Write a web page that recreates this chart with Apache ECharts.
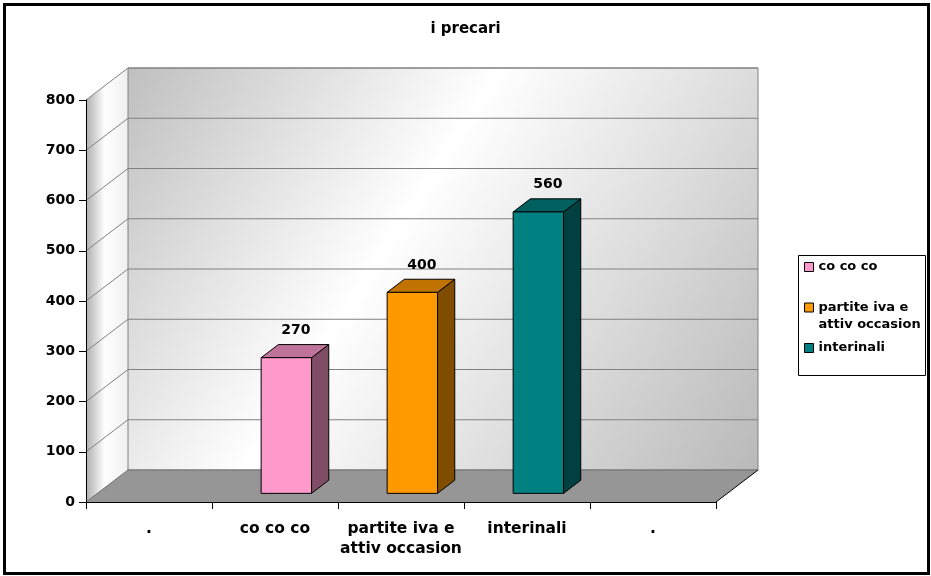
<!DOCTYPE html>
<html>
<head>
<meta charset="utf-8">
<script src="https://cdn.jsdelivr.net/npm/echarts@6/dist/echarts.min.js"></script>
<style>
html,body{margin:0;padding:0;background:#fff;}
#chart{width:931px;height:576px;}
</style>
</head>
<body>
<div id="chart"></div>
<script>
// ---- data ----
const categories = ['.', 'co co co', 'partite iva e\nattiv occasion', 'interinali', '.'];
const seriesNames = ['co co co', 'partite iva e\nattiv occasion', 'interinali'];
const seriesCategory = [1, 2, 3];
const seriesValues = [270, 400, 560];
const yMin = 0, yMax = 800, yStep = 100;
const titleText = 'i precari';

// ---- styles ----
const FONT = 'DejaVu Sans';
const faceColors = [
  {front: '#FF99CC', side: '#804D66', top: '#C0739A'},
  {front: '#FF9900', side: '#804D00', top: '#C07300'},
  {front: '#008080', side: '#004040', top: '#006060'}
];
const DX = 42, DY = 32;          // depth offset of back wall (px)
const F_FRONT = 0.27, F_BACK = 0.68, BAR_W = 0.4;

const chart = echarts.init(document.getElementById('chart'), null, {renderer: 'canvas'});

function renderBackground(params, api) {
  const bw = api.size([1, 0])[0];
  const p0 = api.coord([0, yMin]);
  const pN = api.coord([categories.length - 1, yMin]);
  const L = p0[0] - bw / 2, R = pN[0] + bw / 2, y0 = p0[1];
  const yT = api.coord([0, yMax])[1];
  const els = [];
  // side wall
  els.push({type: 'polygon', shape: {points: [[L, yT], [L + DX, yT - DY], [L + DX, y0 - DY], [L, y0]]},
    style: {fill: new echarts.graphic.LinearGradient(0, 0, 1, 0, [
      {offset: 0, color: '#aeaeae'}, {offset: 0.45, color: '#ffffff'}, {offset: 1, color: '#efefef'}]), stroke: null}});
  // back wall
  els.push({type: 'rect', shape: {x: L + DX, y: yT - DY, width: R - L, height: y0 - yT},
    style: {fill: new echarts.graphic.LinearGradient(0, 0, 1, 1, [
      {offset: 0, color: '#bfbfbf'}, {offset: 0.42, color: '#ffffff'}, {offset: 1, color: '#b9b9b9'}]),
      stroke: '#808080', lineWidth: 1}});
  // gridlines
  for (let v = yMin + yStep; v <= yMax; v += yStep) {
    const yv = api.coord([0, v])[1];
    els.push({type: 'line', shape: {x1: L + DX, y1: yv - DY, x2: R + DX, y2: yv - DY},
      style: {stroke: '#808080', lineWidth: 1}});
    els.push({type: 'line', shape: {x1: L, y1: yv, x2: L + DX, y2: yv - DY},
      style: {stroke: '#808080', lineWidth: 1}});
  }
  // floor
  els.push({type: 'polygon', shape: {points: [[L, y0], [R, y0], [R + DX, y0 - DY], [L + DX, y0 - DY]]},
    style: {fill: '#969696', stroke: null}});
  els.push({type: 'line', shape: {x1: L + DX, y1: y0 - DY, x2: R + DX, y2: y0 - DY}, style: {stroke: '#707070', lineWidth: 1}});
  els.push({type: 'line', shape: {x1: L, y1: y0, x2: L + DX, y2: y0 - DY}, style: {stroke: '#707070', lineWidth: 1}});
  els.push({type: 'line', shape: {x1: R, y1: y0, x2: R + DX, y2: y0 - DY}, style: {stroke: '#000', lineWidth: 1}});
  return {type: 'group', children: els};
}

function makeBarRenderer(si) {
  return function (params, api) {
    const ci = api.value(0), v = api.value(1);
    const c0 = api.coord([ci, yMin]);
    const c1 = api.coord([ci, v]);
    const bw = api.size([1, 0])[0] * BAR_W;
    const fx0 = c0[0] - bw / 2 + DX * F_FRONT;
    const fx1 = fx0 + bw;
    const yb = c0[1] - DY * F_FRONT;
    const yt = c1[1] - DY * F_FRONT;
    const ox = DX * (F_BACK - F_FRONT), oy = DY * (F_BACK - F_FRONT);
    const col = faceColors[si];
    const st = {stroke: '#000', lineWidth: 1, lineJoin: 'round'};
    return {type: 'group', children: [
      {type: 'polygon', shape: {points: [[fx1, yb], [fx1, yt], [fx1 + ox, yt - oy], [fx1 + ox, yb - oy]]},
        style: Object.assign({fill: col.side}, st)},
      {type: 'polygon', shape: {points: [[fx0, yt], [fx1, yt], [fx1 + ox, yt - oy], [fx0 + ox, yt - oy]]},
        style: Object.assign({fill: col.top}, st)},
      {type: 'rect', shape: {x: fx0, y: yt, width: bw, height: yb - yt},
        style: Object.assign({fill: col.front}, st)},
      {type: 'text', style: {text: String(v), x: (fx0 + fx1) / 2 + ox / 2 + 1, y: yt - oy - 14,
        align: 'center', verticalAlign: 'middle', fill: '#000',
        fontFamily: FONT, fontWeight: 'bold', fontSize: 14}}
    ]};
  };
}

const series = [{
  type: 'custom', name: '__bg', z: 1, silent: true,
  renderItem: renderBackground, data: [[0, 0]]
}];
seriesNames.forEach((n, i) => {
  series.push({
    type: 'custom', name: n, z: 3,
    itemStyle: {color: faceColors[i].front},
    renderItem: makeBarRenderer(i),
    data: [[seriesCategory[i], seriesValues[i]]]
  });
});

const option = {
  animation: false,
  backgroundColor: '#fff',
  title: {
    text: titleText, left: 'center', top: 22, padding: 0,
    textStyle: {fontFamily: FONT, fontWeight: 'bold', fontSize: 15, color: '#000'}
  },
  grid: {left: 86, right: 215, top: 100, bottom: 74, containLabel: false},
  xAxis: {
    type: 'category', data: categories, z: 5,
    axisLine: {show: true, lineStyle: {color: '#000', width: 1}},
    axisTick: {show: true, length: 7, lineStyle: {color: '#000'}},
    axisLabel: {interval: 0, margin: 17, color: '#000', fontFamily: FONT, fontWeight: 'bold',
      fontSize: 15.5, lineHeight: 20}
  },
  yAxis: {
    type: 'value', min: yMin, max: yMax, interval: yStep, z: 5,
    axisLine: {show: true, lineStyle: {color: '#000', width: 1}},
    axisTick: {show: true, length: 7, lineStyle: {color: '#000'}},
    splitLine: {show: false},
    axisLabel: {margin: 11, color: '#000', fontFamily: FONT, fontWeight: 'bold', fontSize: 14}
  },
  legend: {
    orient: 'vertical', left: 804, top: 258.5, padding: 0, itemGap: 6.5,
    itemWidth: 9, itemHeight: 9, icon: 'rect',
    itemStyle: {borderColor: '#000', borderWidth: 1},
    textStyle: {fontFamily: FONT, fontWeight: 'bold', fontSize: 13, lineHeight: 17, color: '#000'},
    // multi-line entry: blank first line so the icon sits beside the first text line
    formatter: name => (name.indexOf('\n') >= 0 ? '\n' + name : name),
    data: seriesNames,
    selectedMode: false
  },
  graphic: [
    {type: 'rect', shape: {x: 798.5, y: 255.5, width: 127, height: 120},
      style: {fill: null, stroke: '#000', lineWidth: 1}, z: 0},
    {type: 'rect', shape: {x: 4.5, y: 4.5, width: 924, height: 569},
      style: {fill: null, stroke: '#000', lineWidth: 3}, z: 100}
  ],
  series: series
};
chart.setOption(option);
</script>
</body>
</html>
